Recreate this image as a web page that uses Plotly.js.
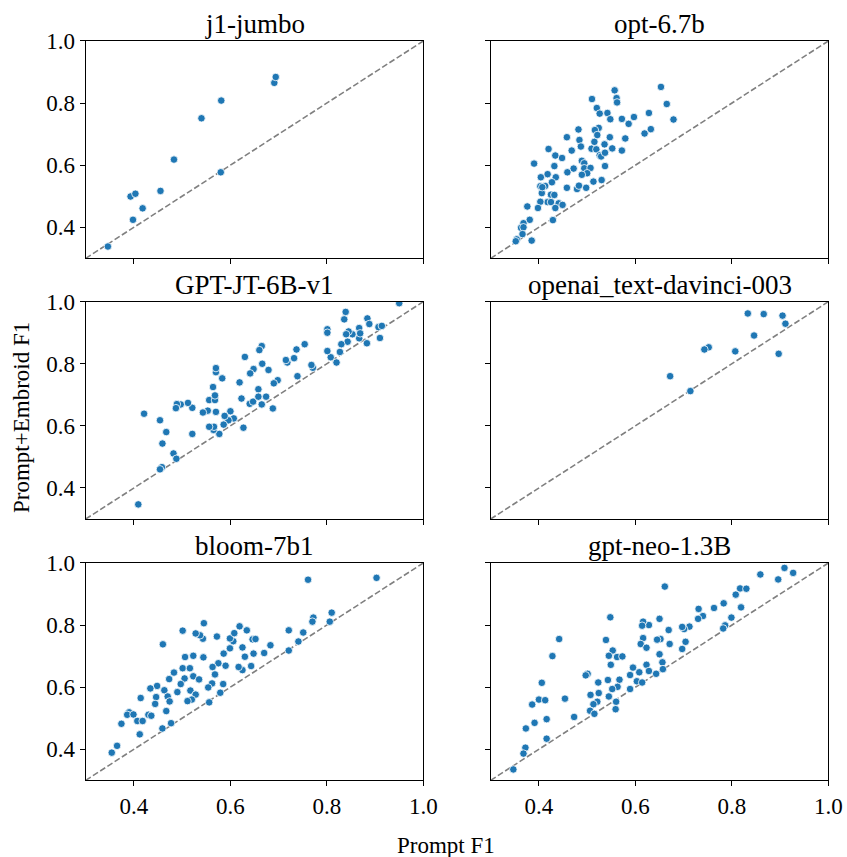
<!DOCTYPE html>
<html>
<head>
<meta charset="utf-8">
<script src="https://cdn.plot.ly/plotly-3.0.1.min.js"></script>
<style>html,body{margin:0;padding:0;background:#fff;}#chart{width:847px;height:857px;}</style>
</head>
<body>
<div id="chart"></div>
<script>
// Panel titles
const models = ["j1-jumbo", "opt-6.7b", "GPT-JT-6B-v1", "openai_text-davinci-003", "bloom-7b1", "gpt-neo-1.3B"];

// j1-jumbo
const j1_x = [0.346,0.393,0.403,0.398,0.418,0.455,0.483,0.540,0.581,0.580,0.691,0.694];
const j1_y = [0.338,0.499,0.508,0.424,0.461,0.517,0.618,0.751,0.808,0.577,0.865,0.884];

// opt-6.7b
const opt_x = [0.653,0.557,0.561,0.562,0.510,0.520,0.526,0.542,0.548,0.572,0.597,0.586,0.628,0.665,0.679,0.632,0.619,
  0.482,0.524,0.516,0.521,0.458,0.484,0.487,0.468,0.420,0.434,0.448,0.390,0.515,0.509,0.519,0.526,0.529,0.537,0.536,
  0.547,0.552,0.579,0.572,0.537,0.489,0.494,0.494,0.507,0.500,0.489,0.472,0.459,0.432,0.435,0.418,0.404,0.427,0.413,
  0.403,0.406,0.425,0.432,0.418,0.425,0.403,0.441,0.449,0.434,0.398,0.376,0.429,0.458,0.479,0.483,0.498,0.513,0.530,
  0.381,0.368,0.363,0.368,0.366,0.354,0.352,0.385,0.407];
const opt_y = [0.852,0.841,0.816,0.802,0.813,0.784,0.766,0.768,0.748,0.749,0.755,0.733,0.768,0.797,0.747,0.716,0.702,
  0.715,0.720,0.713,0.697,0.690,0.681,0.660,0.647,0.652,0.631,0.623,0.605,0.675,0.653,0.651,0.632,0.628,0.640,0.667,
  0.690,0.654,0.686,0.647,0.597,0.614,0.606,0.590,0.591,0.574,0.569,0.589,0.577,0.597,0.561,0.571,0.561,0.545,0.533,
  0.532,0.510,0.505,0.504,0.481,0.481,0.482,0.477,0.472,0.462,0.462,0.467,0.423,0.527,0.523,0.534,0.527,0.547,0.552,
  0.424,0.413,0.398,0.400,0.378,0.361,0.355,0.357,0.529];

// GPT-JT-6B-v1
const jt_x = [0.950,0.839,0.836,0.884,0.888,0.907,0.914,0.910,0.883,0.867,0.867,0.869,0.853,0.845,0.840,0.843,0.830,
  0.827,0.820,0.808,0.801,0.801,0.801,0.771,0.768,0.754,0.737,0.732,0.718,0.715,0.739,0.698,0.690,0.679,0.666,0.665,
  0.660,0.648,0.641,0.630,0.619,0.623,0.640,0.647,0.658,0.658,0.674,0.665,0.688,0.627,0.607,0.600,0.596,0.588,0.586,
  0.577,0.565,0.566,0.556,0.570,0.553,0.543,0.556,0.568,0.568,0.564,0.583,0.570,0.570,0.521,0.512,0.497,0.489,0.487,
  0.521,0.454,0.467,0.421,0.459,0.482,0.488,0.458,0.454,0.409];
const jt_y = [0.995,0.967,0.943,0.946,0.928,0.918,0.922,0.883,0.866,0.882,0.915,0.898,0.895,0.904,0.895,0.871,0.863,
  0.838,0.804,0.821,0.841,0.911,0.900,0.787,0.796,0.863,0.846,0.818,0.804,0.812,0.760,0.747,0.737,0.780,0.800,0.857,
  0.844,0.783,0.769,0.822,0.740,0.688,0.671,0.678,0.718,0.694,0.694,0.669,0.656,0.594,0.624,0.647,0.618,0.632,0.604,
  0.574,0.587,0.597,0.597,0.645,0.649,0.643,0.683,0.683,0.698,0.725,0.753,0.773,0.786,0.658,0.674,0.669,0.670,0.657,
  0.574,0.618,0.580,0.639,0.543,0.511,0.494,0.467,0.460,0.347];

// openai_text-davinci-003
const dav_x = [0.833,0.866,0.905,0.911,0.846,0.897,0.807,0.752,0.743,0.672,0.714];
const dav_y = [0.962,0.960,0.955,0.929,0.891,0.832,0.840,0.853,0.846,0.760,0.712];

// bloom-7b1
const bloom_x = [0.903,0.761,0.810,0.806,0.772,0.770,0.751,0.721,0.741,0.721,0.683,0.670,0.648,0.630,0.643,0.625,0.617,
  0.625,0.599,0.606,0.599,0.608,0.619,0.634,0.646,0.652,0.586,0.590,0.575,0.563,0.568,0.562,0.554,0.585,0.579,0.556,
  0.572,0.545,0.543,0.537,0.528,0.501,0.460,0.544,0.523,0.506,0.501,0.516,0.523,0.535,0.505,0.497,0.490,0.517,0.528,
  0.520,0.511,0.483,0.473,0.448,0.434,0.463,0.470,0.474,0.446,0.444,0.467,0.414,0.390,0.386,0.399,0.407,0.418,0.430,
  0.436,0.374,0.412,0.459,0.477,0.365,0.354];
const bloom_y = [0.952,0.946,0.840,0.811,0.824,0.811,0.776,0.783,0.747,0.718,0.735,0.710,0.708,0.698,0.668,0.655,0.665,
  0.728,0.725,0.748,0.757,0.774,0.796,0.783,0.754,0.755,0.708,0.669,0.677,0.665,0.641,0.612,0.599,0.610,0.582,0.551,
  0.763,0.806,0.756,0.767,0.773,0.782,0.738,0.696,0.701,0.697,0.661,0.661,0.635,0.625,0.628,0.610,0.584,0.589,0.576,
  0.560,0.555,0.647,0.626,0.604,0.596,0.590,0.570,0.554,0.568,0.546,0.523,0.565,0.519,0.511,0.512,0.491,0.491,0.511,
  0.508,0.482,0.448,0.467,0.484,0.411,0.389];

// gpt-neo-1.3B
const neo_x = [0.909,0.927,0.896,0.859,0.661,0.817,0.830,0.808,0.783,0.819,0.763,0.731,0.740,0.730,0.799,0.786,0.782,
  0.712,0.701,0.697,0.704,0.697,0.669,0.650,0.671,0.652,0.645,0.650,0.656,0.657,0.643,0.628,0.616,0.614,0.616,0.611,
  0.623,0.623,0.628,0.608,0.603,0.614,0.595,0.589,0.589,0.548,0.539,0.553,0.545,0.562,0.573,0.549,0.543,0.567,0.563,
  0.552,0.545,0.560,0.559,0.523,0.524,0.521,0.513,0.506,0.515,0.507,0.501,0.497,0.442,0.428,0.454,0.473,0.406,0.400,
  0.413,0.386,0.391,0.416,0.416,0.373,0.372,0.368,0.347];
const neo_y = [0.984,0.968,0.947,0.963,0.924,0.918,0.917,0.898,0.870,0.857,0.855,0.852,0.829,0.820,0.824,0.799,0.789,
  0.795,0.787,0.794,0.746,0.723,0.784,0.820,0.739,0.755,0.753,0.706,0.680,0.658,0.643,0.800,0.811,0.798,0.758,0.739,
  0.727,0.672,0.652,0.648,0.619,0.615,0.663,0.639,0.594,0.825,0.752,0.718,0.701,0.697,0.699,0.672,0.623,0.624,0.601,
  0.594,0.570,0.553,0.529,0.615,0.581,0.553,0.545,0.524,0.514,0.575,0.643,0.638,0.755,0.700,0.563,0.504,0.614,0.560,
  0.558,0.544,0.485,0.497,0.434,0.467,0.405,0.386,0.335];

// reference diagonal y = x
const diag = [0.3, 1.0];

const xs = [j1_x, opt_x, jt_x, dav_x, bloom_x, neo_x];
const ys = [j1_y, opt_y, jt_y, dav_y, bloom_y, neo_y];

const colDom = [[0.1012, 0.4998], [0.5793, 0.9780]];
const rowDom = [[0.6986, 0.9522], [0.3944, 0.6480], [0.0895, 0.3431]];

const FONT = "Liberation Serif, Times New Roman, serif";
const data = [];
const layout = {
  width: 847, height: 857,
  margin: {l: 0, r: 0, t: 0, b: 0},
  paper_bgcolor: "#ffffff", plot_bgcolor: "#ffffff",
  showlegend: false,
  font: {family: FONT, size: 24, color: "#000"},
  annotations: []
};

for (let i = 0; i < 6; i++) {
  const r = Math.floor(i / 2), c = i % 2;
  const n = i + 1;
  const xa = n === 1 ? "x" : "x" + n;
  const ya = n === 1 ? "y" : "y" + n;
  data.push({
    type: "scatter", mode: "lines", x: diag, y: diag, xaxis: xa, yaxis: ya,
    line: {color: "#808080", width: 1.6, dash: "6px,2.6px"}, hoverinfo: "skip"
  });
  data.push({
    type: "scatter", mode: "markers", x: xs[i], y: ys[i], xaxis: xa, yaxis: ya,
    marker: {color: "#1f77b4", size: 7.5, line: {color: "#ffffff", width: 0.8}}
  });
  const axBase = {
    range: [0.3, 1.0], tickvals: [0.4, 0.6, 0.8, 1.0], ticktext: ["0.4", "0.6", "0.8", "1.0"],
    showgrid: false, zeroline: false, showline: true, mirror: true,
    linecolor: "#000", linewidth: 1, ticks: "outside", ticklen: 5, tickwidth: 1, tickcolor: "#000",
    tickfont: {family: FONT, size: 23, color: "#000"}, fixedrange: true
  };
  layout["xaxis" + (n === 1 ? "" : n)] = Object.assign({}, axBase, {
    domain: colDom[c], anchor: ya, showticklabels: r === 2
  });
  layout["yaxis" + (n === 1 ? "" : n)] = Object.assign({}, axBase, {
    domain: rowDom[r], anchor: xa, showticklabels: c === 0
  });
  layout.annotations.push({
    text: models[i], xref: "paper", yref: "paper",
    x: (colDom[c][0] + colDom[c][1]) / 2, y: rowDom[r][1],
    xanchor: "center", yanchor: "bottom", yshift: 0, showarrow: false,
    font: {family: FONT, size: 27, color: "#000"}
  });
}

layout.annotations.push({
  text: "Prompt F1", xref: "paper", yref: "paper", x: 446 / 847, y: 1 - 845 / 857,
  xanchor: "center", yanchor: "middle", showarrow: false,
  font: {family: FONT, size: 23, color: "#000"}
});
layout.annotations.push({
  text: "Prompt+Embroid F1", xref: "paper", yref: "paper", x: 21 / 847, y: 1 - 418 / 857,
  xanchor: "center", yanchor: "middle", textangle: -90, showarrow: false,
  font: {family: FONT, size: 23, color: "#000"}
});

Plotly.newPlot("chart", data, layout, {displayModeBar: false, staticPlot: true});
</script>
</body>
</html>
